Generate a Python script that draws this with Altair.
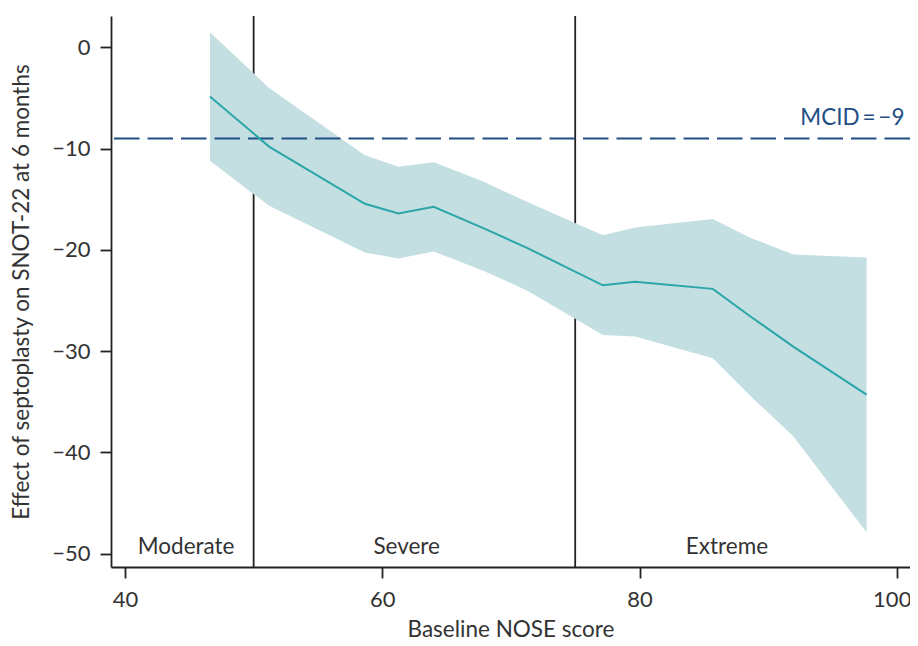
import altair as alt
import pandas as pd

# Data
nose = [46.6, 51.2, 58.65, 61.25, 64.0, 67.85, 71.25, 77.15, 79.65, 85.7, 88.6, 91.95, 97.65]
effect = [-4.85, -9.8, -15.45, -16.4, -15.75, -17.85, -19.8, -23.5, -23.15, -23.85, -26.55, -29.55, -34.3]
upper = [1.5, -4.0, -10.65, -11.8, -11.35, -13.25, -15.25, -18.55, -17.8, -16.95, -18.8, -20.45, -20.75]
lower = [-11.2, -15.65, -20.25, -20.85, -20.15, -22.05, -24.0, -28.4, -28.55, -30.7, -34.4, -38.4, -47.9]

bounds = [50, 75]
mcid = -9
mcid_label = "MCID\u2009=\u2009\u22129"
regions = ["Moderate", "Severe", "Extreme"]
region_x = [44.75, 61.9, 86.8]
region_y = [-49.3, -49.3, -49.3]
x_ticks = [40, 60, 80, 100]
y_ticks = [0, -10, -20, -30, -40, -50]

FONT = "Lato"
TXT = "#333333"

df = pd.DataFrame({"nose": nose, "effect": effect, "upper": upper, "lower": lower})
bdf = pd.DataFrame({"b": bounds})
rdf = pd.DataFrame({"label": regions, "x": region_x, "y": region_y})
mdf = pd.DataFrame({"y": [mcid], "ly": [mcid + 2.05], "lx": [100.6], "label": [mcid_label]})

xs = alt.Scale(domain=[38.91, 101.03], nice=False, zero=False)
ys = alt.Scale(domain=[-51.32, 3.1], nice=False, zero=False)

xax = alt.Axis(
    values=x_ticks,
    title="Baseline NOSE score",
    grid=False,
    labelOffset={"condition": {"test": "datum.value == 100", "value": -5}, "value": 0},
)
yax = alt.Axis(values=y_ticks, title="Effect of septoplasty on SNOT-22 at 6 months", grid=False)

base = alt.Chart(df)

rules = alt.Chart(bdf).mark_rule(color="#222222", strokeWidth=1.8).encode(
    x=alt.X("b:Q", scale=xs, axis=xax)
)

band = base.mark_area(color="#c3dfe1", opacity=1).encode(
    x=alt.X("nose:Q", scale=xs, axis=xax),
    y=alt.Y("upper:Q", scale=ys, axis=yax),
    y2="lower:Q",
)

dash = alt.Chart(mdf).mark_rule(color="#1f4e85", strokeWidth=2.2, strokeDash=[25.5, 8]).encode(
    y=alt.Y("y:Q", scale=ys, axis=yax)
)

line = base.mark_line(color="#2aa5a8", strokeWidth=2).encode(
    x=alt.X("nose:Q", scale=xs, axis=xax),
    y=alt.Y("effect:Q", scale=ys, axis=yax),
)

mtext = alt.Chart(mdf).mark_text(
    align="right", baseline="middle", font=FONT, fontSize=22.5, color="#1f4e85"
).encode(
    x=alt.X("lx:Q", scale=xs, axis=xax),
    y=alt.Y("ly:Q", scale=ys, axis=yax),
    text="label:N",
)

rtext = alt.Chart(rdf).mark_text(
    align="center", baseline="middle", font=FONT, fontSize=22.5, color=TXT
).encode(
    x=alt.X("x:Q", scale=xs, axis=xax),
    y=alt.Y("y:Q", scale=ys, axis=yax),
    text="label:N",
)

chart = alt.layer(rules, band, dash, line, mtext, rtext).properties(
    width=799,
    height=551,
    autosize=alt.AutoSizeParams(type="none"),
    padding={"left": 103, "top": 8, "right": 0, "bottom": 78},
).configure_view(stroke=None).configure_axis(
    labelFont=FONT,
    titleFont=FONT,
    labelFontSize=22,
    titleFontSize=22.5,
    titleFontWeight="normal",
    labelColor=TXT,
    titleColor=TXT,
    domainColor="#222222",
    tickColor="#222222",
    domainWidth=1.8,
    tickWidth=1.8,
    tickSize=11,
).configure_axisX(
    labelPadding=11,
    titlePadding=8,
).configure_axisY(
    labelPadding=10,
    titlePadding=18,
)

chart.save("out.html", embed_options={"renderer": "svg", "actions": False})
